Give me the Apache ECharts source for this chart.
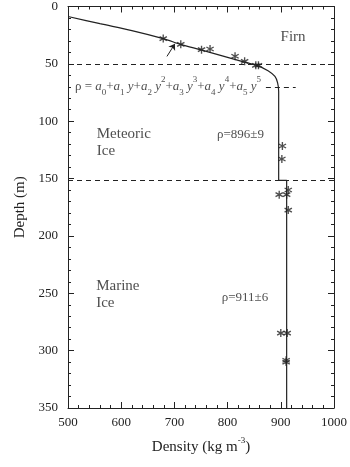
<!DOCTYPE html>
<html lang="en">
<head>
  <meta charset="UTF-8">
  <title>Density profile</title>
  <script src="https://cdn.jsdelivr.net/npm/echarts@6/dist/echarts.min.js"></script>
  <style>
    body{ margin:0; background:#fff; }
    #main{ width:350px; height:467px; }
  </style>
</head>
<body>
<div id="main"></div>
<script>
  // fitted density curve (kg m-3 vs depth m)
  var curveDensity = [500, 560, 620, 679, 712, 750, 790, 830, 855, 876, 889, 894, 896, 896, 911, 911];
  var curveDepth   = [8.7, 15, 21, 28, 33, 37.8, 43, 48.3, 51.3, 56, 61, 66.6, 74, 151.5, 151.5, 350];

  // measured samples
  var firnDensity = [679, 712, 751, 767, 814, 832, 853, 858];
  var firnDepth   = [28, 33, 37.6, 37, 43.4, 47.8, 51.3, 51.3];
  var iceDensity  = [903, 902, 914, 897, 911, 914, 900, 912, 910, 910];
  var iceDepth    = [121.6, 133, 160, 164, 164, 177.5, 284.7, 284.7, 308.4, 310];

  // layer boundaries
  var boundaries = [50, 151.5];

  var xTicks = [500, 600, 700, 800, 900, 1000];
  var yTicks = [0, 50, 100, 150, 200, 250, 300, 350];

  var serif = 'Liberation Serif';
  var ink = '#222';
  var star = 'path://M-0.8,5L0.8,5L0.8,-5L-0.8,-5ZM3.93,3.19L4.73,1.81L-3.93,-3.19L-4.73,-1.81ZM-4.73,1.81L-3.93,3.19L4.73,-1.81L3.93,-3.19Z';

  function pairs(xs, ys){
    var out = [];
    for (var i = 0; i < xs.length; i++) out.push([xs[i], ys[i]]);
    return out;
  }

  // axes never snap to zero, the frame stays a box
  var lineStyle = { show: true, onZero: false, lineStyle: { color: ink, width: 1 } };
  var tickStyle = { show: true, inside: true, length: 6, lineStyle: { color: ink, width: 1 } };
  var minorStyle = { show: true, splitNumber: 5, length: 3, lineStyle: { color: ink, width: 1 } };
  var plainLabel = function (v) { return String(v); };

  var myChart = echarts.init(document.getElementById('main'));
  var option = {
    backgroundColor: '#fff',
    animation: false,
    grid: { left: 68, right: 16, top: 5, bottom: 59 },
    xAxis: [
      {
        type: 'value', position: 'bottom',
        min: xTicks[0], max: xTicks[xTicks.length - 1], interval: 100,
        axisLine: lineStyle, axisTick: tickStyle, minorTick: minorStyle,
        splitLine: { show: false },
        axisLabel: { margin: 8, fontFamily: serif, fontSize: 13, color: ink, formatter: plainLabel },
        name: 'Density (kg m{sup|-3})',
        nameLocation: 'middle', nameGap: 28,
        nameTextStyle: {
          fontFamily: serif, fontSize: 15, color: ink, lineHeight: 22,
          rich: { sup: { fontFamily: serif, fontSize: 9, lineHeight: 10, verticalAlign: 'top', color: ink } }
        }
      },
      {
        type: 'value', position: 'top',
        min: xTicks[0], max: xTicks[xTicks.length - 1], interval: 100,
        axisLine: lineStyle, axisTick: tickStyle, minorTick: minorStyle,
        splitLine: { show: false }, axisLabel: { show: false }
      }
    ],
    yAxis: [
      {
        type: 'value', position: 'left', inverse: true,
        min: yTicks[0], max: yTicks[yTicks.length - 1], interval: 50,
        axisLine: lineStyle, axisTick: tickStyle, minorTick: minorStyle,
        splitLine: { show: false },
        axisLabel: { margin: 10, fontFamily: serif, fontSize: 13, color: ink, formatter: plainLabel },
        name: 'Depth (m)', nameLocation: 'middle', nameGap: 38, nameRotate: 90,
        nameTextStyle: { fontFamily: serif, fontSize: 15, color: ink }
      },
      {
        type: 'value', position: 'right', inverse: true,
        min: yTicks[0], max: yTicks[yTicks.length - 1], interval: 50,
        axisLine: lineStyle, axisTick: tickStyle, minorTick: minorStyle,
        splitLine: { show: false }, axisLabel: { show: false }
      }
    ],
    series: [
      {
        type: 'line',
        data: pairs(curveDensity, curveDepth),
        symbol: 'none', smooth: 0.3,
        lineStyle: { color: ink, width: 1.2 },
        markLine: {
          silent: true, symbol: 'none', label: { show: false },
          lineStyle: { color: ink, type: [5, 4], width: 1 },
          data: [
            { yAxis: boundaries[0] },
            { yAxis: boundaries[1] },
            [ { coord: [872, 70.4] }, { coord: [928, 70.4] } ],
            [ { coord: [686, 43.5], symbol: 'none' }, { coord: [701, 32.5], symbol: 'arrow', symbolSize: 6, lineStyle: { type: 'solid' } } ]
          ]
        }
      },
      {
        type: 'scatter',
        data: pairs(firnDensity, firnDepth).concat(pairs(iceDensity, iceDepth)),
        symbol: star, symbolSize: 8,
        itemStyle: { color: ink }
      },
      {
        type: 'scatter', symbolSize: 0, silent: true, z: 10,
        label: {
          show: true, position: 'inside', align: 'left', verticalAlign: 'middle',
          fontFamily: serif, fontSize: 15, lineHeight: 17, color: ink,
          formatter: function (p) { return p.name; },
          rich: {
            r: { fontFamily: serif, fontSize: 13, lineHeight: 22, color: ink },
            i: { fontFamily: serif, fontSize: 13, lineHeight: 22, fontStyle: 'italic', color: ink },
            sb: { fontFamily: serif, fontSize: 9, lineHeight: 10, verticalAlign: 'bottom', color: ink },
            sp: { fontFamily: serif, fontSize: 9, lineHeight: 10, verticalAlign: 'top', color: ink }
          }
        },
        data: [
          { name: 'Firn', value: [923, 27], label: { align: 'center' } },
          { name: 'Meteoric\nIce', value: [554, 118.6] },
          { name: 'Marine\nIce', value: [553, 251.5] },
          { name: 'ρ=896±9', value: [780, 112], label: { fontSize: 13 } },
          { name: 'ρ=911±6', value: [789, 253.4], label: { fontSize: 13 } },
          { name: '{r|ρ = }{i|a}{sb|0}{r|+}{i|a}{sb|1}{i| y}{r|+}{i|a}{sb|2}{i| y}{sp|2}{r|+}{i|a}{sb|3}{i| y}{sp|3}{r|+}{i|a}{sb|4}{i| y}{sp|4}{r|+}{i|a}{sb|5}{i| y}{sp|5}',
            value: [513, 69.5] }
        ]
      }
    ]
  };
  myChart.setOption(option);
</script>
</body>
</html>
